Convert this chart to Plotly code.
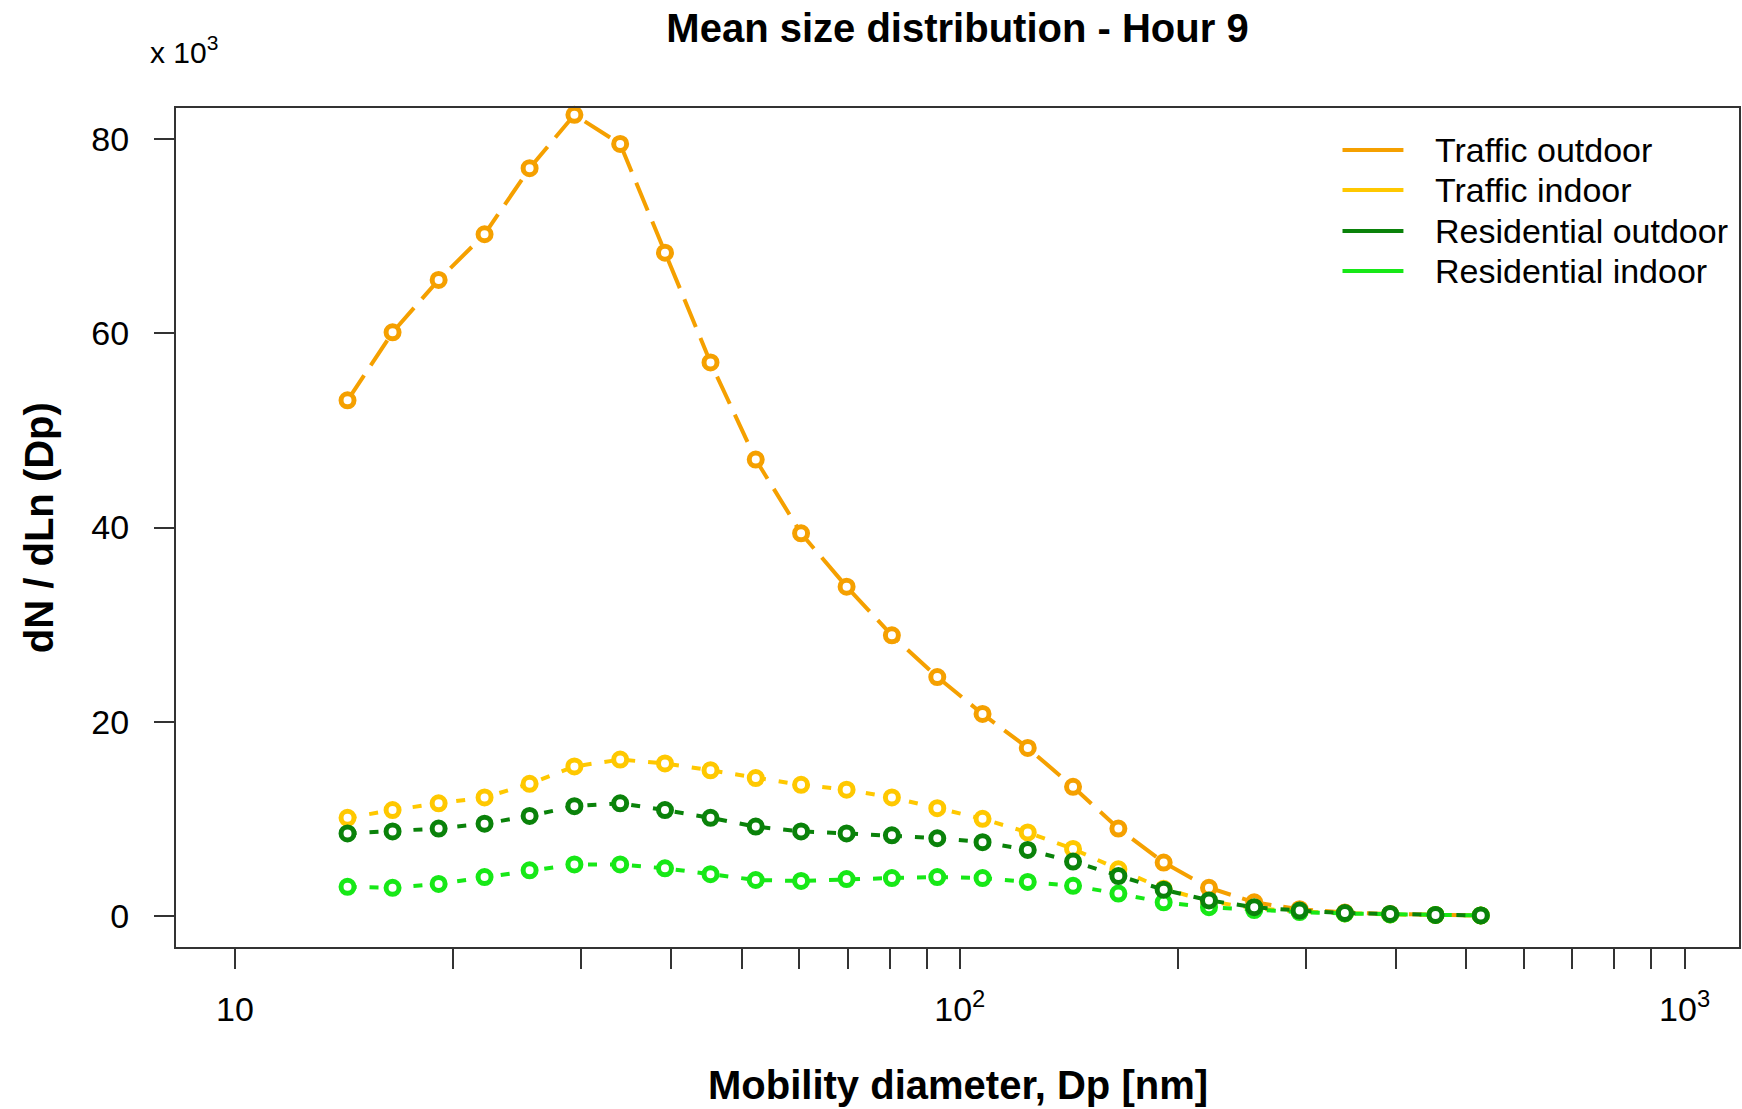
import plotly.graph_objects as go

# Mobility diameter bins (nm)
diameter_nm = [14.3, 16.5, 19.1, 22.1, 25.5, 29.4, 34.0, 39.2, 45.3, 52.3, 60.4, 69.8, 80.6,
               93.1, 107.5, 124.1, 143.3, 165.5, 191.1, 220.7, 254.8, 294.3, 339.8, 392.4,
               453.2, 523.3]

# dN/dLn(Dp), in units of 10^3
traffic_outdoor = [53.1, 60.1, 65.5, 70.2, 77.0, 82.5, 79.5, 68.3, 57.0, 47.0, 39.4, 33.9, 28.9,
                   24.6, 20.8, 17.3, 13.3, 9.0, 5.5, 2.9, 1.4, 0.7, 0.35, 0.2, 0.1, 0.05]
traffic_indoor = [10.1, 10.9, 11.6, 12.2, 13.6, 15.4, 16.1, 15.7, 15.0, 14.2, 13.5, 13.0, 12.2,
                  11.1, 10.0, 8.6, 6.9, 4.8, 2.8, 1.5, 0.8, 0.45, 0.25, 0.15, 0.1, 0.05]
residential_outdoor = [8.5, 8.7, 9.0, 9.5, 10.3, 11.3, 11.6, 10.9, 10.1, 9.2, 8.7, 8.5, 8.3,
                       8.0, 7.6, 6.8, 5.6, 4.1, 2.7, 1.6, 0.9, 0.55, 0.3, 0.2, 0.1, 0.05]
residential_indoor = [3.0, 2.9, 3.3, 4.0, 4.7, 5.3, 5.3, 4.9, 4.3, 3.7, 3.6, 3.8, 3.9,
                      4.0, 3.9, 3.5, 3.1, 2.3, 1.4, 0.9, 0.6, 0.4, 0.25, 0.15, 0.1, 0.05]

series_names = ["Traffic outdoor", "Traffic indoor", "Residential outdoor", "Residential indoor"]
series_values = [traffic_outdoor, traffic_indoor, residential_outdoor, residential_indoor]
series_colors = ["#F5A000", "#FFC800", "#0A820A", "#17E817"]
series_dash = ["30px,12px", "9px,13px", "9px,13px", "9px,13px"]
draw_order = [0, 1, 3, 2]

# Axis ticks
x_tickvals = [10, 20, 30, 40, 50, 60, 70, 80, 90, 100, 200, 300, 400, 500, 600, 700, 800, 900, 1000]
x_ticktext = ["10", "", "", "", "", "", "", "", "", "10<sup>2</sup>", "", "", "", "", "", "", "", "", "10<sup>3</sup>"]
y_tickvals = [0, 20, 40, 60, 80]
y_ticktext = ["0", "20", "40", "60", "80"]

FONT = "Liberation Sans, Arial, sans-serif"
W, H = 1742, 1109
L, R, T, B = 176, 1, 108, 162
PW, PH = W - L - R, H - T - B

def px_x(p):
    return (p - L) / PW

def px_y(p):
    return (H - B - p) / PH

fig = go.Figure()

for i in draw_order:
    fig.add_trace(go.Scatter(
        x=diameter_nm, y=series_values[i], mode="lines+markers", name=series_names[i],
        showlegend=False, cliponaxis=False,
        line=dict(color=series_colors[i], width=4, dash=series_dash[i]),
        marker=dict(symbol="circle", size=13, color="white",
                    line=dict(color=series_colors[i], width=5)),
    ))

fig.update_layout(
    width=W, height=H,
    margin=dict(l=L, r=R, t=T, b=B),
    paper_bgcolor="white", plot_bgcolor="white",
    showlegend=False,
    font=dict(family=FONT, color="black"),
    title=dict(text="<b>Mean size distribution - Hour 9</b>", x=px_x((L + W - R) / 2), xanchor="center",
               xref="paper", y=1 - 28 / H, yanchor="middle", yref="container",
               font=dict(size=40, family=FONT, color="black")),
    xaxis=dict(type="log", range=[0.9187, 3.075], showgrid=False, zeroline=False,
               showline=True, linecolor="#333333", linewidth=2, mirror=True,
               ticks="outside", ticklen=20, tickwidth=2, tickcolor="#333333",
               tickvals=x_tickvals, ticktext=x_ticktext, ticklabelstandoff=11,
               tickfont=dict(size=34, family=FONT, color="black")),
    yaxis=dict(range=[-3.2, 83.2], showgrid=False, zeroline=False,
               showline=True, linecolor="#333333", linewidth=2, mirror=True,
               ticks="outside", ticklen=20, tickwidth=2, tickcolor="#333333",
               tickvals=y_tickvals, ticktext=y_ticktext, ticklabelstandoff=18,
               tickfont=dict(size=34, family=FONT, color="black")),
)

annotations = [
    dict(text="<b>Mobility diameter, Dp [nm]</b>", x=0.5, y=px_y(1085), xref="paper", yref="paper",
         xanchor="center", yanchor="middle", showarrow=False, font=dict(size=40, family=FONT)),
    dict(text="<b>dN / dLn (Dp)</b>", x=px_x(39), y=px_y(528), xref="paper", yref="paper",
         xanchor="center", yanchor="middle", textangle=-90, showarrow=False, font=dict(size=40, family=FONT)),
    dict(text="x 10<sup>3</sup>", x=px_x(148), y=px_y(50), xref="paper", yref="paper",
         xanchor="left", yanchor="middle", showarrow=False, font=dict(size=30, family=FONT)),
]
shapes = []
legend_rows = [150, 190, 231, 271]
for name, color, row in zip(series_names, series_colors, legend_rows):
    shapes.append(dict(type="line", xref="paper", yref="paper", x0=px_x(1344), x1=px_x(1405),
                       y0=px_y(row), y1=px_y(row), line=dict(color=color, width=4)))
    annotations.append(dict(text=name, x=px_x(1435), y=px_y(row), xref="paper", yref="paper",
                            xanchor="left", yanchor="middle", showarrow=False,
                            font=dict(size=34, family=FONT)))
fig.update_layout(annotations=annotations, shapes=shapes)

fig.write_html("out.html", config={"displayModeBar": False},
               post_script="document.body.style.margin='0';document.body.style.overflow='hidden';")
